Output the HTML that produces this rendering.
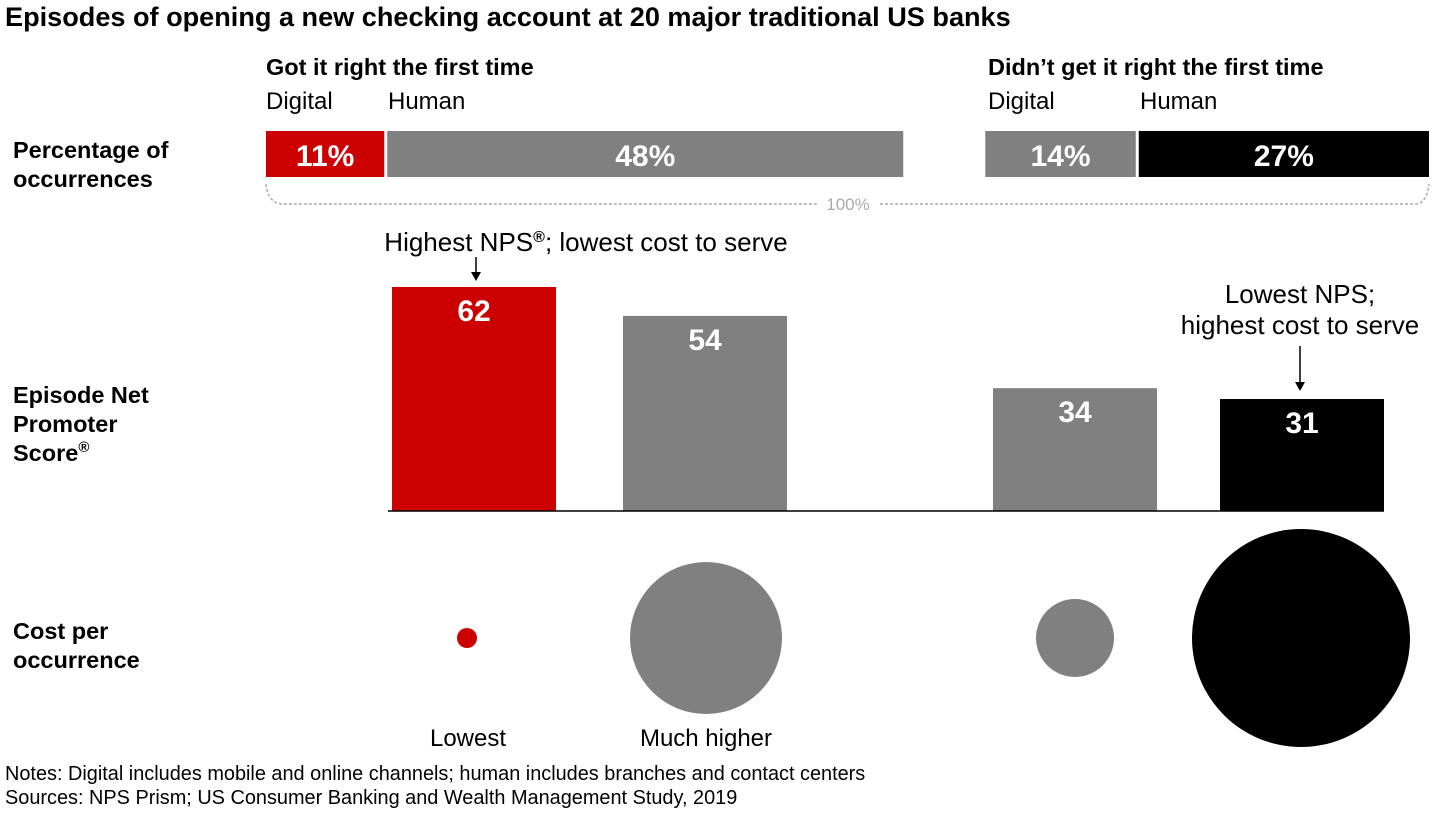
<!DOCTYPE html>
<html><head><meta charset="utf-8"><style>
body{margin:0;width:1440px;height:810px;background:#fff;font-family:"Liberation Sans",Arial,sans-serif;overflow:hidden}
svg text{font-family:"Liberation Sans",Arial,sans-serif}
</style></head><body>
<svg width="1440" height="810">
<text x="5" y="26" font-size="27.1" font-weight="bold">Episodes of opening a new checking account at 20 major traditional US banks</text>
<text x="266" y="75" font-size="23.5" font-weight="bold">Got it right the first time</text>
<text x="988" y="75" font-size="23.5" font-weight="bold">Didn’t get it right the first time</text>
<g font-size="24">
<text x="266" y="109">Digital</text><text x="388" y="109">Human</text>
<text x="988" y="109">Digital</text><text x="1140" y="109">Human</text></g>
<g font-size="23.5" font-weight="bold">
<text x="13" y="158">Percentage of</text><text x="13" y="187">occurrences</text>
<text x="13" y="403">Episode Net</text><text x="13" y="432">Promoter</text><text x="13" y="461">Score<tspan font-size="15" dy="-9">®</tspan></text>
<text x="13" y="639">Cost per</text><text x="13" y="668">occurrence</text></g>
<g id="pct"></g>
<path d="M266,184 Q268,203 282,204 L818,204 M880,204 L1416,204 Q1427,203 1429,184" fill="none" stroke="#aaa" stroke-width="1.5" stroke-dasharray="3,2"/>
<text x="848" y="210" font-size="17" fill="#aaa" text-anchor="middle">100%</text>
<g id="nps"></g>
<line x1="388" y1="511" x2="1384" y2="511" stroke="#000" stroke-width="1.5"/>
<text x="586" y="251" font-size="26" text-anchor="middle">Highest NPS<tspan font-size="16" font-weight="bold" dy="-9">®</tspan><tspan dy="9">; lowest cost to serve</tspan></text>
<line x1="476" y1="257" x2="476" y2="274" stroke="#000" stroke-width="1.5"/><path d="M471,272 L476,281 L481,272 Z"/>
<text x="1300" y="303" font-size="26" text-anchor="middle">Lowest NPS;</text>
<text x="1300" y="334" font-size="26" text-anchor="middle">highest cost to serve</text>
<line x1="1300" y1="346" x2="1300" y2="384" stroke="#000" stroke-width="1.5"/><path d="M1295,382 L1300,391 L1305,382 Z"/>
<g id="cost"></g>
<text x="468" y="746" font-size="24" text-anchor="middle">Lowest</text>
<text x="706" y="746" font-size="24" text-anchor="middle">Much higher</text>
<text x="5" y="780" font-size="19.9">Notes: Digital includes mobile and online channels; human includes branches and contact centers</text>
<text x="5" y="804" font-size="19.9">Sources: NPS Prism; US Consumer Banking and Wealth Management Study, 2019</text>
</svg>
<script>
const categories=["Right digital","Right human","Wrong digital","Wrong human"];
const pctValues=[11,48,14,27];
const npsValues=[62,54,34,31];
const costRadius=[10,76,39,109];
const colors=["#cc0000","#808080","#808080","#000000"];
const NS="http://www.w3.org/2000/svg";
function mk(t,a,p){const e=document.createElementNS(NS,t);for(const k in a)e.setAttribute(k,a[k]);p.appendChild(e);return e;}
const pxPerPct=(1429-266-2*3-82)/100;
let x=266;const pg=document.getElementById('pct');
pctValues.forEach((v,i)=>{const w=v*pxPerPct;
 const r=mk('rect',{x:x,y:131,width:w,height:46,fill:colors[i]},pg);
 
 
 const t=mk('text',{x:x+w/2,y:166,'font-size':30,'font-weight':'bold',fill:'#fff','text-anchor':'middle'},pg);t.textContent=v+'%';
 
 
 x+=w+(i==1?82:3);});
const base=511,unit=224/62,barX=[392,623,993,1220],bw=164;
const yN=v=>base-v*unit;
const ng=document.getElementById('nps');
npsValues.forEach((v,i)=>{
 const r=mk('rect',{x:barX[i],y:yN(v),width:bw,height:base-yN(v),fill:colors[i]},ng);
 
 
 const t=mk('text',{x:barX[i]+bw/2,y:yN(v)+34,'font-size':30,'font-weight':'bold',fill:'#fff','text-anchor':'middle'},ng);t.textContent=v;
 
 });
const cx=[467,706,1075,1301];const cg=document.getElementById('cost');
costRadius.forEach((r,i)=>{const c=mk('circle',{cx:cx[i],cy:638,r:r,fill:colors[i]},cg);
 
 });
</script>
</body></html>
